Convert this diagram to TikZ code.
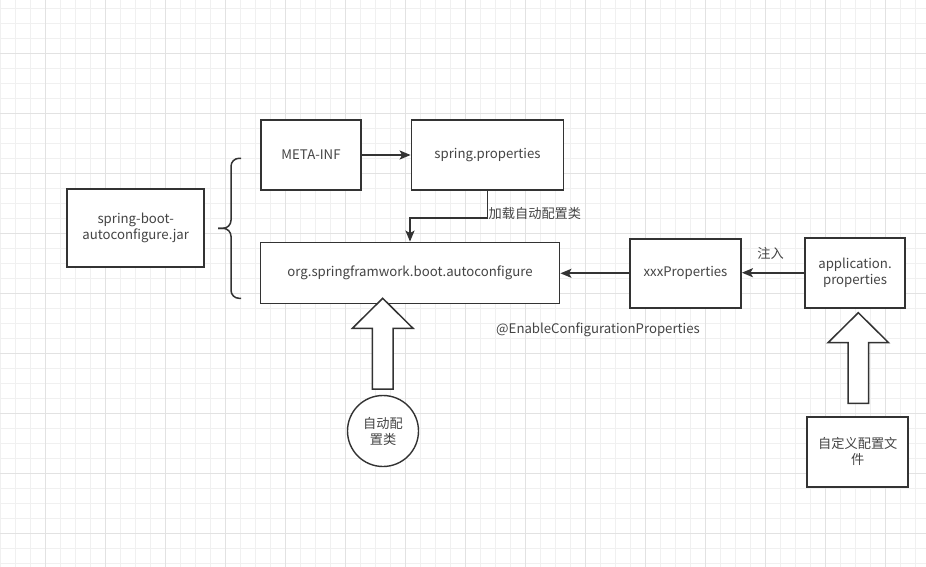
\documentclass[tikz,border=0pt]{standalone}
\usepackage{fontspec}
\setmainfont{Noto Sans CJK SC}
\usetikzlibrary{arrows.meta,calc}

\definecolor{gridminor}{HTML}{F0F0F0}
\definecolor{gridmajor}{HTML}{E2E2E2}
\definecolor{ink}{HTML}{333333}
\definecolor{textink}{HTML}{444444}

% block arrow pointing up, tip at #1
\newcommand{\uparrowblock}[1]{%
  \draw[blockarrow] (#1) -- ++(30.3,30) -- ++(-20,0) -- ++(0,60.7)
    -- ++(-20.6,0) -- ++(0,-60.7) -- ++(-20,0) -- cycle;}

\begin{document}
\begin{tikzpicture}
  [x=1pt,y=-1pt,
   font=\fontsize{13.2}{16}\selectfont, text=textink,
   box/.style={draw=ink,line width=1.8pt,fill=white,align=center,inner sep=2pt},
   lbl/.style={inner sep=0pt,text=textink},
   conn/.style={draw=ink,line width=1.8pt,-{Stealth[length=11pt,width=9pt,inset=2.5pt]}},
   blockarrow/.style={draw=ink,line width=1.5pt,fill=white,line join=miter},
   brace/.style={draw=ink,line width=1.5pt,rounded corners=8pt}]

  \useasboundingbox (0,0) rectangle (926,567);
  \fill[white] (0,0) rectangle (926,567);

  % grid
  \foreach \gx in {0,15,...,930}
    \draw[gridminor,line width=0.8pt] (\gx,0) -- (\gx,567);
  \foreach \gy in {8.3,23.3,...,567}
    \draw[gridminor,line width=0.8pt] (0,\gy) -- (926,\gy);
  \foreach \gx in {45,105,...,926}
    \draw[gridmajor,line width=0.8pt] (\gx,0) -- (\gx,567);
  \foreach \gy in {53.3,113.3,...,567}
    \draw[gridmajor,line width=0.8pt] (0,\gy) -- (926,\gy);

  % boxes
  \node[box,minimum width=137pt,minimum height=78pt] (jar) at (135.7,228.3) {spring-boot-\\autoconfigure.jar};
  \node[box,minimum width=100pt,minimum height=70pt] (meta) at (311,155) {META-INF};
  \node[box,minimum width=152pt,minimum height=70pt] (spring) at (487.5,155) {spring.properties};
  \node[box,minimum width=299pt,minimum height=61pt] (org) at (410,273) {org.springframwork.boot.autoconfigure};
  \node[box,minimum width=111pt,minimum height=69pt] (xxx) at (685.5,273.3) {xxxProperties};
  \node[box,minimum width=100pt,minimum height=70pt] (app) at (855,272.7) {application.\\properties};
  \node[box,minimum width=101pt,minimum height=70pt] (custom) at (857.8,451.7) {自定义配置文\\件};
  \node[box,circle,line width=1.4pt,minimum size=71pt,inner sep=0pt] (auto) at (383,431) {自动配\\置类};

  % brace
  \draw[brace] (241,158.3) -- (231,158.3) -- (231,228.3) -- (218,228.3);
  \draw[brace] (241,298.3) -- (231,298.3) -- (231,228.3) -- (218,228.3);

  % connectors
  \draw[conn] (meta) -- (spring);
  \draw[conn] (spring.south) -- ++(0,26.7) -| (org.north);
  \draw[conn] (xxx) -- (org.east |- xxx);
  \draw[conn] (app) -- (xxx.east |- app);

  % labels
  \node[lbl,anchor=west] (loadlbl) at (488.5,213) {加载自动配置类};
  \node[lbl] (injectlbl) at (770.5,253.3) {注入};
  \node[lbl] (enablelbl) at (598,330) {@EnableConfigurationProperties};

  % block arrows
  \uparrowblock{382.7,298.3}
  \uparrowblock{858.3,312.7}
\end{tikzpicture}
\end{document}
